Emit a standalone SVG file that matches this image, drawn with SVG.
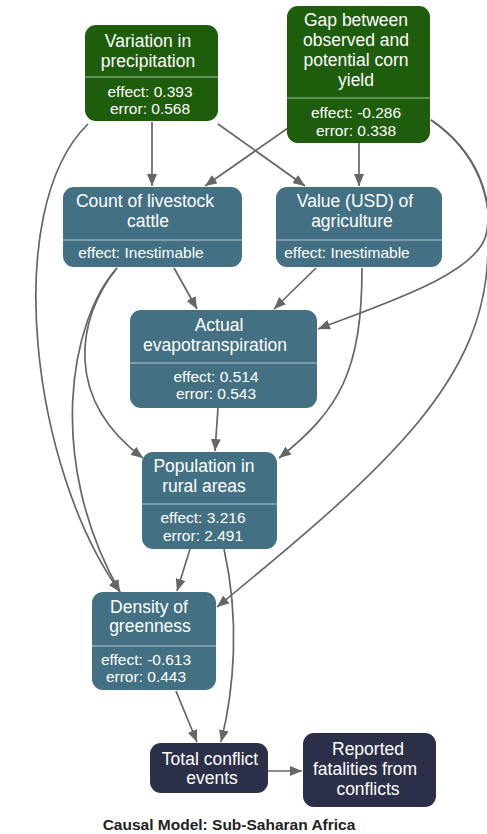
<svg xmlns="http://www.w3.org/2000/svg" width="487" height="834" viewBox="0 0 487 834">
<defs>
<marker id="ah" markerUnits="userSpaceOnUse" markerWidth="12" markerHeight="10" refX="12" refY="5" orient="auto">
<path d="M0,0 L12,5 L0,10 z" fill="#666"/>
</marker>
<style>
.e{fill:none;stroke:#666;stroke-width:1.7;marker-end:url(#ah)}
.g{fill:#1e5d0b}
.t{fill:#437183}
.n{fill:#2c2f48}
.dv{stroke:#ffffff;stroke-opacity:0.6;stroke-width:1.2}
.ti{font-family:"Liberation Sans",Arial,sans-serif;font-size:17.5px;fill:#fff;text-anchor:middle}
.ef{font-family:"Liberation Sans",Arial,sans-serif;font-size:15.5px;fill:#fff;text-anchor:middle}
.cap{font-family:"Liberation Sans",Arial,sans-serif;font-size:15.5px;font-weight:bold;fill:#222;text-anchor:middle}
</style>
</defs>
<rect width="487" height="834" fill="#fff"/>
<g id="edges">
<path class="e" d="M152,122 L152,186"/>
<path class="e" d="M218,124 L305,186"/>
<path class="e" d="M288,128 L205,186"/>
<path class="e" d="M359,143 L359,186"/>
<path class="e" d="M88,124 C0,210 32,470 120,592"/>
<path class="e" d="M431,120 C478,152 494,200 486,235 C476,275 380,305 318,329"/>
<path class="e" d="M431,120 C478,152 494,200 488,250 C486,380 390,465 217,607"/>
<path class="e" d="M174,268 L197,309"/>
<path class="e" d="M316,268 L274,309"/>
<path class="e" d="M117,268 C75,320 65,400 143,458"/>
<path class="e" d="M117,268 C70,320 45,460 120,592"/>
<path class="e" d="M218,408 L215,451"/>
<path class="e" d="M362,268 C362,370 340,410 279,458"/>
<path class="e" d="M190,549 L177,591"/>
<path class="e" d="M224,549 C240,620 234,690 221,742"/>
<path class="e" d="M176,691 L197,742"/>
<path class="e" d="M268,771 L302,771"/>
</g>
<g id="n_var">
<rect class="g" x="85" y="25" width="133" height="96" rx="11"/>
<line class="dv" x1="85" y1="77" x2="218" y2="77"/>
<text class="ti" x="148" y="47">Variation in</text>
<text class="ti" x="148" y="67">precipitation</text>
<text class="ef" x="150" y="97">effect: 0.393</text>
<text class="ef" x="150" y="114">error: 0.568</text>
</g>
<g id="n_gap">
<rect class="g" x="287" y="6" width="143" height="137" rx="11"/>
<line class="dv" x1="287" y1="98" x2="430" y2="98"/>
<text class="ti" x="356" y="26">Gap between</text>
<text class="ti" x="356" y="46">observed and</text>
<text class="ti" x="356" y="66">potential corn</text>
<text class="ti" x="356" y="86">yield</text>
<text class="ef" x="356" y="118">effect: -0.286</text>
<text class="ef" x="356" y="136">error: 0.338</text>
</g>
<g id="n_count">
<rect class="t" x="63" y="187" width="179" height="80" rx="11"/>
<line class="dv" x1="63" y1="240" x2="242" y2="240"/>
<text class="ti" x="145" y="207">Count of livestock</text>
<text class="ti" x="148" y="227">cattle</text>
<text class="ef" x="141" y="258">effect: Inestimable</text>
</g>
<g id="n_value">
<rect class="t" x="276" y="187" width="166" height="80" rx="11"/>
<line class="dv" x1="276" y1="240" x2="442" y2="240"/>
<text class="ti" x="355" y="207">Value (USD) of</text>
<text class="ti" x="352" y="227">agriculture</text>
<text class="ef" x="347" y="258">effect: Inestimable</text>
</g>
<g id="n_aet">
<rect class="t" x="130" y="310" width="187" height="98" rx="11"/>
<line class="dv" x1="130" y1="363" x2="317" y2="363"/>
<text class="ti" x="219" y="331">Actual</text>
<text class="ti" x="215" y="351">evapotranspiration</text>
<text class="ef" x="216" y="382">effect: 0.514</text>
<text class="ef" x="216" y="399">error: 0.543</text>
</g>
<g id="n_pop">
<rect class="t" x="142" y="452" width="135" height="97" rx="11"/>
<line class="dv" x1="142" y1="504" x2="277" y2="504"/>
<text class="ti" x="204" y="472">Population in</text>
<text class="ti" x="204" y="492">rural areas</text>
<text class="ef" x="203" y="523">effect: 3.216</text>
<text class="ef" x="203" y="541">error: 2.491</text>
</g>
<g id="n_green">
<rect class="t" x="92" y="592" width="124" height="98" rx="11"/>
<line class="dv" x1="92" y1="646" x2="216" y2="646"/>
<text class="ti" x="149" y="613">Density of</text>
<text class="ti" x="150" y="632">greenness</text>
<text class="ef" x="146" y="665">effect: -0.613</text>
<text class="ef" x="146" y="682">error: 0.443</text>
</g>
<g id="n_total">
<rect class="n" x="150" y="743" width="118" height="50" rx="11"/>
<text class="ti" x="210" y="765">Total conflict</text>
<text class="ti" x="212" y="784">events</text>
</g>
<g id="n_fatal">
<rect class="n" x="303" y="733" width="133" height="74" rx="11"/>
<text class="ti" x="368" y="755">Reported</text>
<text class="ti" x="365" y="775">fatalities from</text>
<text class="ti" x="368" y="795">conflicts</text>
</g>
<text class="cap" x="229" y="830">Causal Model: Sub-Saharan Africa</text>
</svg>
